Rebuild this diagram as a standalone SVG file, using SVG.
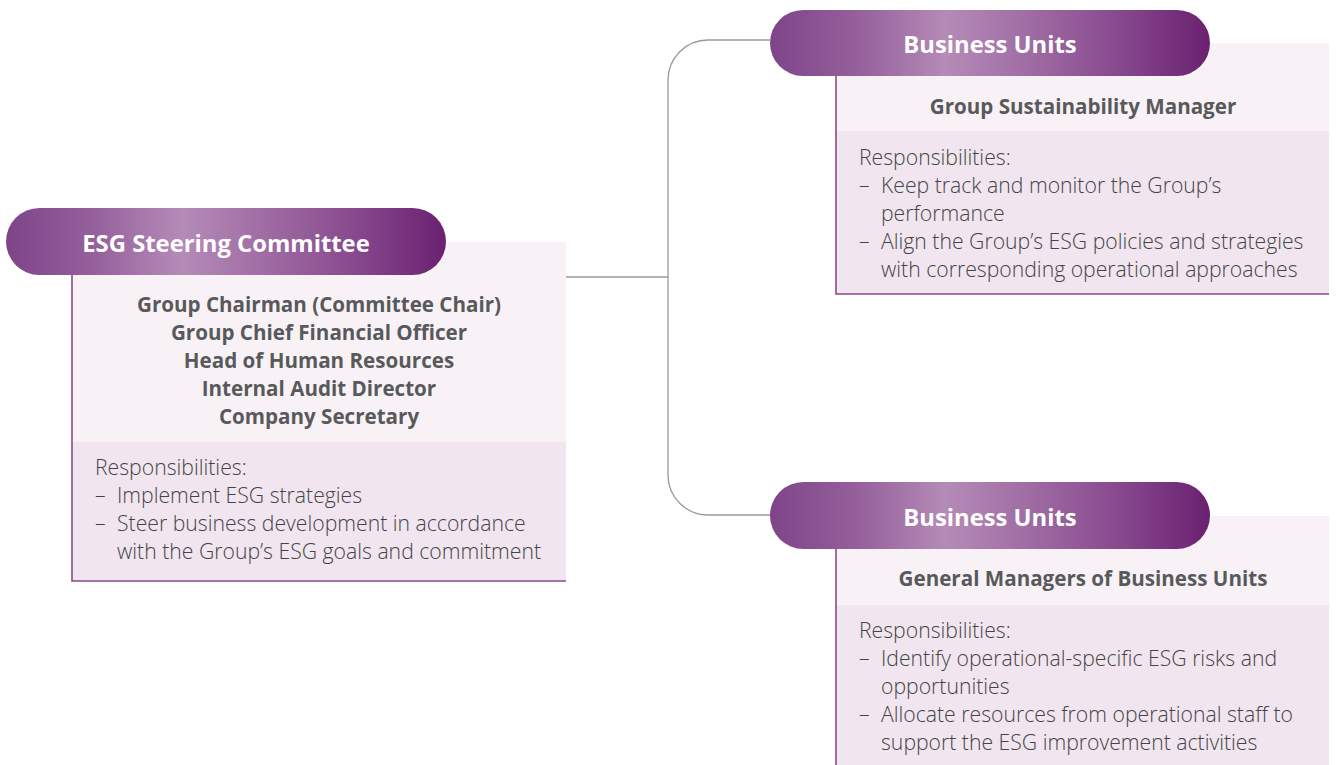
<svg xmlns="http://www.w3.org/2000/svg" width="1337" height="765" viewBox="0 0 1337 765">
<defs>
<linearGradient id="pill" x1="0" y1="0" x2="1" y2="0">
<stop offset="0" stop-color="#7e4489"/>
<stop offset="0.2" stop-color="#95609c"/>
<stop offset="0.4" stop-color="#b58bb7"/>
<stop offset="0.75" stop-color="#8d5193"/>
<stop offset="1" stop-color="#6a2170"/>
</linearGradient>
<style>
.pill{fill:url(#pill)}
.top{fill:#f8f2f7}
.low{fill:#f1e5f0}
.border{stroke:#8b4a8f;stroke-width:1.6;fill:none}
.conn{stroke:#9a9a9a;stroke-width:1.3;fill:none}
.head{font-family:"Open Sans","Liberation Sans",sans-serif;font-weight:700;font-size:23.8px;fill:#ffffff;text-anchor:middle}
.sub{font-family:"Open Sans","Liberation Sans",sans-serif;font-weight:700;font-size:20.6px;fill:#58595b;text-anchor:middle}
.body{font-family:"Open Sans","Liberation Sans",sans-serif;font-weight:300;font-size:21.2px;fill:#444444}
</style>
</defs>
<g id="connectors">
<path class="conn" d="M566 277 H668"/>
<path class="conn" d="M770 40 H708 A40 40 0 0 0 668 80 V475 A40 40 0 0 0 708 515 H770"/>
</g>
<g id="esg-steering-committee">
<rect class="top" x="72" y="242" width="494" height="200"/>
<rect class="low" x="72" y="442" width="494" height="139"/>
<path class="border" d="M72 270 V581 H566"/>
<rect class="pill" x="6" y="208" width="440" height="67" rx="33.5"/>
<text class="head" x="226" y="252">ESG Steering Committee</text>
<text class="sub" x="319" y="312">Group Chairman (Committee Chair)</text>
<text class="sub" x="319" y="340">Group Chief Financial Officer</text>
<text class="sub" x="319" y="368">Head of Human Resources</text>
<text class="sub" x="319" y="396">Internal Audit Director</text>
<text class="sub" x="319" y="424">Company Secretary</text>
<text class="body" x="95" y="475">Responsibilities:</text>
<text class="body" x="95" y="503">–</text>
<text class="body" x="117" y="503">Implement ESG strategies</text>
<text class="body" x="95" y="531">–</text>
<text class="body" x="117" y="531">Steer business development in accordance</text>
<text class="body" x="117" y="559">with the Group’s ESG goals and commitment</text>
</g>
<g id="business-units-1">
<rect class="top" x="836" y="43" width="493" height="88"/>
<rect class="low" x="836" y="131" width="493" height="163"/>
<path class="border" d="M836 70 V294 H1329"/>
<rect class="pill" x="770" y="10" width="440" height="66" rx="33"/>
<text class="head" x="990" y="53">Business Units</text>
<text class="sub" x="1083" y="114">Group Sustainability Manager</text>
<text class="body" x="859" y="165">Responsibilities:</text>
<text class="body" x="859" y="193">–</text>
<text class="body" x="881" y="193">Keep track and monitor the Group’s</text>
<text class="body" x="881" y="221">performance</text>
<text class="body" x="859" y="249">–</text>
<text class="body" x="881" y="249">Align the Group’s ESG policies and strategies</text>
<text class="body" x="881" y="277">with corresponding operational approaches</text>
</g>
<g id="business-units-2">
<rect class="top" x="836" y="516" width="493" height="89"/>
<rect class="low" x="836" y="605" width="493" height="160"/>
<path class="border" d="M836 540 V765"/>
<rect class="pill" x="770" y="482" width="440" height="67" rx="33.5"/>
<text class="head" x="990" y="526">Business Units</text>
<text class="sub" x="1083" y="586">General Managers of Business Units</text>
<text class="body" x="859" y="638">Responsibilities:</text>
<text class="body" x="859" y="666">–</text>
<text class="body" x="881" y="666">Identify operational-specific ESG risks and</text>
<text class="body" x="881" y="694">opportunities</text>
<text class="body" x="859" y="722">–</text>
<text class="body" x="881" y="722">Allocate resources from operational staff to</text>
<text class="body" x="881" y="750">support the ESG improvement activities</text>
</g>
</svg>
